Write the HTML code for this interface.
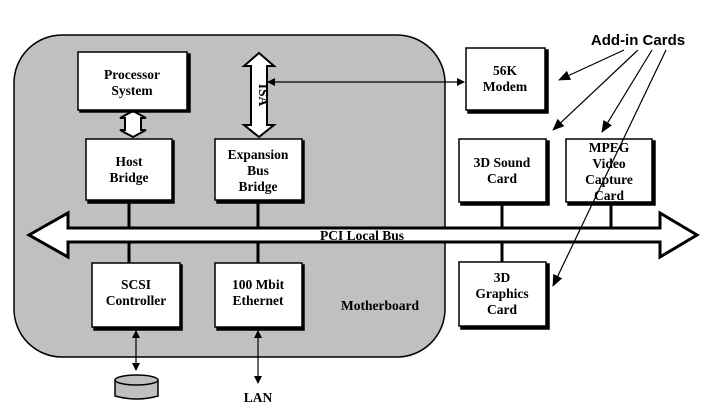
<!DOCTYPE html>
<html><head><style>body{margin:0;background:#fff}svg text{font-family:"Liberation Serif",serif;font-weight:bold;font-size:13.5px;text-anchor:middle}</style></head><body>
<svg width="705" height="408" viewBox="0 0 705 408" xmlns="http://www.w3.org/2000/svg">
<defs><marker id="a" markerWidth="8" markerHeight="8" refX="7" refY="4" orient="auto-start-reverse" markerUnits="userSpaceOnUse"><path d="M0,0 L8,4 L0,8z" fill="#000"/></marker>
<marker id="b" markerWidth="12" markerHeight="10" refX="11" refY="5" orient="auto" markerUnits="userSpaceOnUse"><path d="M0,0 L12,5 L0,10z" fill="#000"/></marker></defs>
<rect x="14" y="35" width="431" height="322" rx="48" fill="#c0c0c0" stroke="#000" stroke-width="1.5"/>
<g stroke="#000" stroke-width="3">
<line x1="129" y1="200" x2="129" y2="263"/><line x1="258" y1="200" x2="258" y2="263"/>
<line x1="502" y1="202" x2="502" y2="262"/><line x1="611" y1="202" x2="611" y2="228"/></g>
<path d="M29,235 L68,213 L68,228 L660,228 L660,213 L697,235 L660,257 L660,242 L68,242 L68,257 Z" fill="#fff" stroke="#000" stroke-width="3"/>
<text x="362" y="240" font-size="14.5">PCI Local Bus</text>
<g fill="#fff" stroke="#000" stroke-width="2">
<path d="M259,53 L274,66 L267,66 L267,125 L274,125 L259,137 L244,125 L251,125 L251,66 L244,66 Z"/>
<path d="M133,111 L146,118 L141,118 L141,130 L146,130 L133,137 L120,130 L125,130 L125,118 L120,118 Z"/></g>
<text x="259" y="95" font-size="11" transform="rotate(90 259 95)">ISA</text>
<line x1="268" y1="82" x2="464" y2="82" stroke="#000" stroke-width="1.2" marker-end="url(#a)" marker-start="url(#a)"/>
<g fill="#fff" stroke="#000" stroke-width="1.5">
<rect x="80" y="54" width="110" height="58" fill="#000"/><rect x="78" y="52" width="109" height="58"/>
<rect x="88" y="141" width="86" height="62" fill="#000"/><rect x="86" y="139" width="86" height="61"/>
<rect x="217" y="141" width="87" height="62" fill="#000"/><rect x="215" y="139" width="87" height="61"/>
<rect x="94" y="265" width="88" height="65" fill="#000"/><rect x="92" y="263" width="88" height="64"/>
<rect x="217" y="265" width="87" height="65" fill="#000"/><rect x="215" y="263" width="87" height="64"/>
<rect x="468" y="50" width="80" height="63" fill="#000"/><rect x="466" y="48" width="79" height="62"/>
<rect x="461" y="141" width="88" height="64" fill="#000"/><rect x="459" y="139" width="87" height="63"/>
<rect x="568" y="141" width="87" height="64" fill="#000"/><rect x="566" y="139" width="86" height="63"/>
<rect x="461" y="264" width="88" height="65" fill="#000"/><rect x="459" y="262" width="87" height="64"/>
</g>
<text x="132" y="79">Processor</text><text x="132" y="95">System</text>
<text x="129" y="166">Host</text><text x="129" y="182">Bridge</text>
<text x="258" y="159">Expansion</text><text x="258" y="175">Bus</text><text x="258" y="191">Bridge</text>
<text x="136" y="289">SCSI</text><text x="136" y="305">Controller</text>
<text x="258" y="289">100 Mbit</text><text x="258" y="305">Ethernet</text>
<text x="380" y="310" font-size="15">Motherboard</text>
<text x="505" y="75">56K</text><text x="505" y="91">Modem</text>
<text x="502" y="167">3D Sound</text><text x="502" y="183">Card</text>
<text x="609" y="152">MPEG</text><text x="609" y="168">Video</text><text x="609" y="184">Capture</text><text x="609" y="200">Card</text>
<text x="502" y="282">3D</text><text x="502" y="298">Graphics</text><text x="502" y="314">Card</text>
<g stroke="#000" stroke-width="1.2">
<line x1="136" y1="331" x2="136" y2="370" marker-end="url(#a)" marker-start="url(#a)"/>
<line x1="258" y1="331" x2="258" y2="383" marker-end="url(#a)" marker-start="url(#a)"/>
<line x1="624" y1="50" x2="559" y2="80" marker-end="url(#b)"/>
<line x1="638" y1="50" x2="553" y2="130" marker-end="url(#b)"/>
<line x1="652" y1="50" x2="602" y2="132" marker-end="url(#b)"/>
<line x1="666" y1="50" x2="553" y2="286" marker-end="url(#b)"/>
</g>
<text x="638" y="45" style="font-family:'Liberation Sans',sans-serif;font-size:15px">Add-in Cards</text>
<path d="M115,380 L115,396 Q137,402 158,396 L158,380" fill="#c0c0c0" stroke="#000" stroke-width="1.5"/>
<ellipse cx="136.5" cy="380" rx="21.5" ry="5" fill="#c0c0c0" stroke="#000" stroke-width="1.5"/>
<text x="258" y="402">LAN</text>
</svg></body></html>
